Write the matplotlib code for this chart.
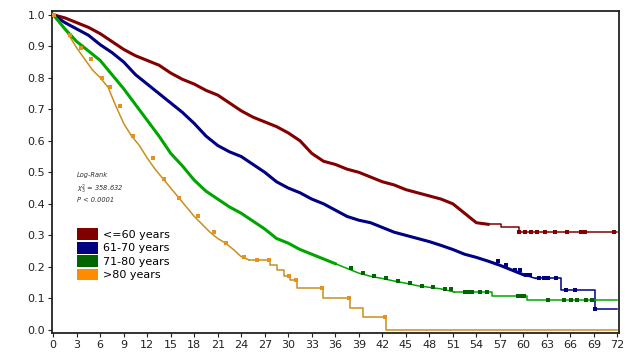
import numpy as np
import matplotlib
matplotlib.use("Agg")
import matplotlib.pyplot as plt
from matplotlib.patches import Patch

# Kaplan-Meier curves (months, survival)
t_60 = [0, 1.5, 3, 4.5, 6, 7.5, 9, 10.5, 12, 13.5, 15, 16.5, 18, 19.5, 21, 22.5, 24, 25.5, 27, 28.5,
        30, 31.5, 33, 34.5, 36, 37.5, 39, 40.5, 42, 43.5, 45, 46.5, 48, 49.5, 51, 52.5, 54, 55.5,
        57.2, 59.5, 72]
s_60 = [1.0, 0.99, 0.975, 0.96, 0.94, 0.915, 0.89, 0.87, 0.855, 0.84, 0.815, 0.795, 0.78, 0.76, 0.745,
        0.72, 0.695, 0.675, 0.66, 0.645, 0.625, 0.60, 0.56, 0.535, 0.525, 0.51, 0.50, 0.485, 0.47, 0.46,
        0.445, 0.435, 0.425, 0.415, 0.40, 0.37, 0.34, 0.335, 0.325, 0.31, 0.31]
c_60 = [59.5, 60.2, 61, 61.8, 62.7, 64, 65.6, 67.4, 67.8, 71.6]

t_70 = [0, 1.5, 3, 4.5, 6, 7.5, 9, 10.5, 12, 13.5, 15, 16.5, 18, 19.5, 21, 22.5, 24, 25.5, 27, 28.5,
        30, 31.5, 33, 34.5, 36, 37.5, 39, 40.5, 42, 43.5, 45, 46.5, 48, 49.5, 51, 52.5, 54, 55.5, 57,
        58.5, 60, 61.6, 64.8, 69.2, 72]
s_70 = [1.0, 0.975, 0.955, 0.935, 0.905, 0.88, 0.85, 0.81, 0.78, 0.75, 0.72, 0.69, 0.655, 0.615, 0.585,
        0.565, 0.55, 0.525, 0.50, 0.47, 0.45, 0.435, 0.415, 0.40, 0.38, 0.36, 0.348, 0.34, 0.325, 0.31,
        0.30, 0.29, 0.28, 0.268, 0.255, 0.24, 0.23, 0.218, 0.205, 0.19, 0.175, 0.163, 0.128, 0.065, 0.065]
c_70 = [56.7, 57.8, 58.9, 59.6, 60.3, 60.8, 62, 62.6, 63.2, 64.2, 65.5, 66.6, 69.2]

t_80 = [0, 1.5, 3, 4.5, 6, 7.5, 9, 10.5, 12, 13.5, 15, 16.5, 18, 19.5, 21, 22.5, 24, 25.5, 27, 28.5,
        30, 31.5, 33, 34.5, 36, 37.5, 39, 40.5, 42, 43.5, 45, 46.5, 48, 49.5, 51.2, 56, 60.5, 72]
s_80 = [1.0, 0.955, 0.915, 0.885, 0.855, 0.81, 0.765, 0.715, 0.665, 0.615, 0.56, 0.52, 0.475, 0.44,
        0.415, 0.39, 0.37, 0.345, 0.32, 0.29, 0.275, 0.255, 0.24, 0.225, 0.21, 0.195, 0.18, 0.17, 0.163,
        0.155, 0.148, 0.14, 0.135, 0.13, 0.12, 0.108, 0.095, 0.095]
c_80 = [38, 39.5, 41, 42.5, 44, 45.5, 47, 48.5, 50, 50.8, 52.5, 53, 53.5, 54.4, 55.4, 59.3, 59.7, 60.1,
        63.1, 65.2, 66.1, 66.9, 68, 68.8]

t_old = [0, 1, 2, 3, 4, 5, 6, 7, 8, 9, 10, 11, 12, 13, 14, 15, 16, 17, 18, 19, 20, 21, 22, 23, 24, 25,
         27.7, 28.5, 29.5, 30.2, 31.1, 34.4, 37.9, 39.5, 42.5, 72]
s_old = [1.0, 0.97, 0.935, 0.895, 0.86, 0.825, 0.80, 0.77, 0.71, 0.655, 0.615, 0.585, 0.545, 0.51, 0.48,
         0.45, 0.42, 0.39, 0.36, 0.335, 0.31, 0.29, 0.275, 0.255, 0.232, 0.222, 0.206, 0.19, 0.17, 0.158,
         0.132, 0.10, 0.069, 0.042, 0.0, 0.0]
c_old = [0.1, 2.2, 3.5, 4.8, 6.2, 7.2, 8.5, 10.2, 12.8, 14.2, 16, 18.5, 20.5, 22, 24.3, 26, 27.5, 30.1,
         31, 34.3, 37.8, 42.3]

labels = ['<=60 years', '61-70 years', '71-80 years', '>80 years']
line_colors = ['#840000', '#000083', '#00A600', '#C8901E']
mark_colors = ['#840000', '#000083', '#006400', '#E8901E']
legend_colors = ['#800000', '#000080', '#006400', '#FF8C00']
smooth_until = [55.5, 61.6, 51.2, 25]   # many small steps -> drawn as a line up to here
thick_until = [57, 60, 36, 0]

series = [(t_60, s_60, c_60), (t_70, s_70, c_70), (t_80, s_80, c_80), (t_old, s_old, c_old)]

fig = plt.figure(figsize=(6.39, 3.54), dpi=100)
ax = fig.add_axes([0.0814, 0.0593, 0.8873, 0.9097])


def draw(t, s, lc, su, lw):
    k = np.searchsorted(t, su, side='right')
    ax.plot(t[:k], s[:k], color=lc, lw=lw, solid_joinstyle='round', zorder=2 + lw)
    ax.step(t[k - 1:], s[k - 1:], where='post', color=lc, lw=lw, zorder=2 + lw)


for (t, s, c), lc, mc, su, tu in zip(series, line_colors, mark_colors, smooth_until, thick_until):
    t = np.array(t)
    s = np.array(s)
    draw(t, s, lc, su, 1.1)
    if tu > 0:
        m = t <= tu
        draw(t[m], s[m], lc, su, 2.2)
    c = np.array(c)
    sc = s[np.searchsorted(t, c, side='right') - 1]
    ax.plot(c, sc, 's', color=mc, ms=3, mew=0, zorder=6)

ax.set_xlim(-0.15, 72.2)
ax.set_ylim(-0.01, 1.012)
ax.set_xticks(np.arange(0, 73, 3))
ax.set_yticks(np.round(np.arange(0, 1.01, 0.1), 1))
ax.set_yticklabels([f'{v:.1f}' for v in np.arange(0, 1.01, 0.1)])
ax.tick_params(axis='both', labelsize=8, colors='#222222', length=3, width=0.8, pad=2)
for sp in ax.spines.values():
    sp.set_color('#222222')
    sp.set_linewidth(1.3)

ax.text(0.044, 0.49, 'Log-Rank', transform=ax.transAxes, fontsize=4.8, style='italic',
        color='#333333', va='center')
ax.text(0.044, 0.446, r'$\chi^2_3$ = 358.632', transform=ax.transAxes, fontsize=4.8, style='italic',
        color='#333333', va='center')
ax.text(0.044, 0.414, 'P < 0.0001', transform=ax.transAxes, fontsize=4.8, style='italic',
        color='#333333', va='center')

handles = [Patch(facecolor=c, edgecolor='none') for c in legend_colors]
ax.legend(handles, labels, loc='upper left', bbox_to_anchor=(0.044, 0.325), frameon=False,
          fontsize=8, handlelength=1.9, handleheight=1.25, labelspacing=0.15, handletextpad=0.45,
          borderpad=0, borderaxespad=0)

fig.savefig('out.png', dpi=100)
